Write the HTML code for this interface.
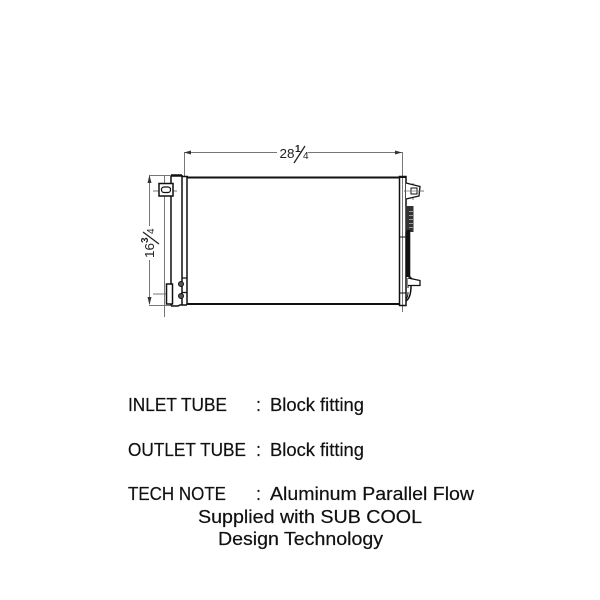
<!DOCTYPE html>
<html><head><meta charset="utf-8"><style>
html,body{margin:0;padding:0;background:#fff}
svg{display:block}
text{font-family:"Liberation Sans",sans-serif;fill:#111}
.t{font-size:18px;stroke:#111;stroke-width:0.200px}
.d{font-size:13px;fill:#222}
.s{font-size:10px;fill:#222}
</style></head><body>
<svg width="600" height="600" viewBox="0 0 600 600" xmlns="http://www.w3.org/2000/svg">
<rect width="600" height="600" fill="#fff"/>
<!-- dimension lines -->
<g stroke="#777" stroke-width="1" fill="none">
<path d="M184.500 152.500H402.500" />
<path d="M184.500 152V176M402.500 152V312"/>
<path d="M149.500 175.500V226M149.500 260V304"/>
<path d="M149 175.500H172M149 305.500H172"/>
<path d="M164.500 175V317"/>
<path d="M153 191H177M153 294H170M413 183V200M404 191H424"/>
</g>
<g fill="#333">
<path d="M184 152.500L191 150.500V154.500Z"/>
<path d="M402 152.500L395 150.500V154.500Z"/>
<path d="M149.500 175L147.500 183H151.500Z"/>
<path d="M149.500 305L147.500 297H151.500Z"/>
</g>
<!-- core panel -->
<g stroke="#111" fill="none">
<path d="M187 177.500H399" stroke-width="2"/>
<path d="M187 304H399" stroke-width="2"/>
<!-- left tank -->
<path d="M171 176V305.500" stroke-width="1.500"/>
<path d="M171 175.500H182" stroke-width="2.500"/>
<path d="M182 175V305.500" stroke-width="1.500"/>
<path d="M187 176V305" stroke-width="1.500"/>
<path d="M182 176.500H188" stroke-width="1.500"/>
<path d="M171 306H178L180 305H187" stroke-width="1.500"/>
<!-- left fittings -->
<rect x="159" y="183.500" width="14" height="12.500" stroke-width="1.500" fill="#fff"/>
<rect x="161.500" y="187" width="9" height="5.500" rx="2.500" stroke-width="1.200"/>
<rect x="166.500" y="284" width="6" height="20" stroke-width="1.500" fill="#fff"/>
<path d="M182 278H187M182 292.500H187" stroke-width="1.200"/>
<circle cx="181" cy="284" r="2.500" stroke-width="1" fill="#555"/>
<circle cx="181" cy="296" r="2.500" stroke-width="1" fill="#555"/>
<!-- right tank -->
<rect x="399.500" y="176.500" width="6.500" height="129" stroke-width="1.500"/>
<path d="M399 177H406" stroke-width="2"/>
<path d="M399 237H406M399 293H406" stroke-width="1"/>
<!-- bracket -->
<path d="M406 183L420 186.500L419 196L406 199" stroke-width="1.300" fill="#fff"/>
<rect x="411" y="188" width="6" height="6" stroke-width="1"/>
<path d="M404 191H424" stroke="#777" stroke-width="0.800"/>
<!-- connector -->
<rect x="405.500" y="206" width="8" height="26" fill="#333" stroke="none"/>
<path d="M408.300 230V277" stroke-width="4"/>
<path d="M408 278V288" stroke-width="1"/>
<path d="M408 278L420 280.500V285.500H408" stroke-width="1.300" fill="#fff"/>
<path d="M409 276L412 279" stroke-width="1.500"/>
<path d="M411 286C411 294 409 299 406 301" stroke-width="1.500"/>
<path d="M408 292C408 296 407 298 406 299" stroke-width="1"/>
</g>
<g stroke="#999" stroke-width="1">
<path d="M409 211.500H413M409 215.500H413M409 219.500H413M409 223.500H413M409 227.500H413"/>
</g>
<!-- dimension labels -->
<rect x="277" y="143" width="31" height="18" fill="#fff"/>
<text class="d" x="279.500" y="158" textLength="15" lengthAdjust="spacingAndGlyphs">28</text>
<text class="s" x="295" y="152" font-weight="bold">1</text>
<path d="M294 163L305 146" stroke="#222" stroke-width="1.300"/>
<text class="s" x="303" y="159">4</text>
<g transform="translate(154 258) rotate(-90)">
<text class="d" x="0" y="0" textLength="15" lengthAdjust="spacingAndGlyphs">16</text>
<text class="s" x="15" y="-6" font-weight="bold">3</text>
<path d="M14 5L26 -11" stroke="#222" stroke-width="1.300"/>
<text class="s" x="24" y="0">4</text>
</g>
<!-- notes -->
<g>
<text class="t" x="128" y="411" textLength="99" lengthAdjust="spacingAndGlyphs">INLET TUBE</text>
<text class="t" x="256" y="411">:</text>
<text class="t" x="270" y="411" textLength="94" lengthAdjust="spacingAndGlyphs">Block fitting</text>
<text class="t" x="128" y="456" textLength="118" lengthAdjust="spacingAndGlyphs">OUTLET TUBE</text>
<text class="t" x="256" y="456">:</text>
<text class="t" x="270" y="456" textLength="94" lengthAdjust="spacingAndGlyphs">Block fitting</text>
<text class="t" x="128" y="500" textLength="98" lengthAdjust="spacingAndGlyphs">TECH NOTE</text>
<text class="t" x="256" y="500">:</text>
<text class="t" x="270" y="500" textLength="204" lengthAdjust="spacingAndGlyphs">Aluminum Parallel Flow</text>
<text class="t" x="198" y="523" textLength="224" lengthAdjust="spacingAndGlyphs">Supplied with SUB COOL</text>
<text class="t" x="218" y="545" textLength="165" lengthAdjust="spacingAndGlyphs">Design Technology</text>
</g>
</svg>
</body></html>
